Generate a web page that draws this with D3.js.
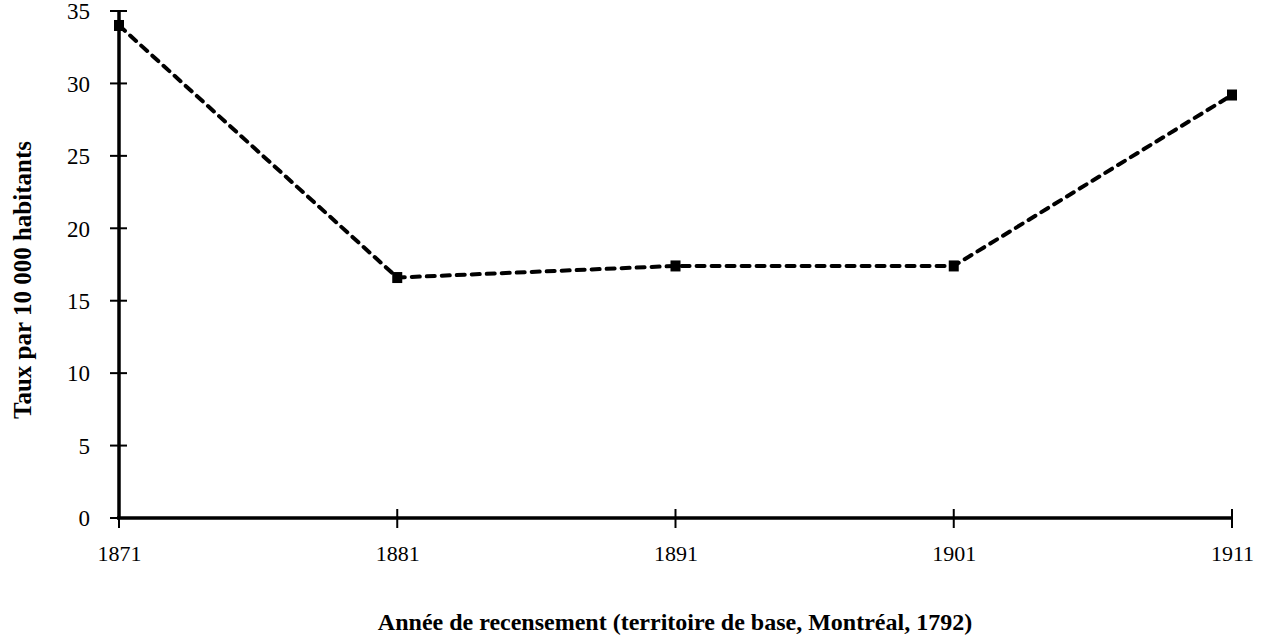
<!DOCTYPE html>
<html><head><meta charset="utf-8">
<script src="https://cdn.jsdelivr.net/npm/d3@7"></script>
<style>body{margin:0;background:#fff;} text{font-family:"Liberation Serif","Times New Roman",serif;}</style>
</head><body>
<svg id="c" width="1262" height="639"></svg>
<script>
const years = ["1871","1881","1891","1901","1911"];
const rates = [34.0, 16.6, 17.4, 17.4, 29.2];
const yTicks = [0,5,10,15,20,25,30,35];
const xTitle = "Année de recensement (territoire de base, Montréal, 1792)";
const yTitle = "Taux par 10 000 habitants";

const svg = d3.select("#c");
const x = d3.scalePoint().domain(years).range([119, 1232]);
const y = d3.scaleLinear().domain([0,35]).range([518, 11]);

// y axis
const ya = svg.append("g").attr("transform","translate(119,0)")
  .call(d3.axisLeft(y).tickValues(yTicks).tickSize(0).tickPadding(29));
ya.select(".domain").remove();
ya.selectAll("text").attr("font-size",23).attr("fill","#000").attr("dy","0.34em");
svg.append("line").attr("x1",119).attr("x2",119).attr("y1",y(35)).attr("y2",y(0)+1)
  .attr("stroke","#000").attr("stroke-width",3.5);
svg.selectAll(".yt").data(yTicks).join("line").attr("class","yt")
  .attr("x1",110).attr("x2",127).attr("y1",d=>y(d)).attr("y2",d=>y(d))
  .attr("stroke","#000").attr("stroke-width",2);

// x axis
const xa = svg.append("g").attr("transform","translate(0,518)")
  .call(d3.axisBottom(x).tickSize(0).tickPadding(0));
xa.select(".domain").remove();
xa.selectAll("text").attr("font-size",22).attr("fill","#000").attr("dy",0).attr("y",43);
svg.append("line").attr("x1",117).attr("x2",x("1911")).attr("y1",518).attr("y2",518)
  .attr("stroke","#000").attr("stroke-width",3.5);
svg.selectAll(".xt").data(years).join("line").attr("class","xt")
  .attr("x1",d=>x(d)).attr("x2",d=>x(d)).attr("y1",509).attr("y2",528)
  .attr("stroke","#000").attr("stroke-width",2);

// line
const data = years.map((d,i)=>({year:d,v:rates[i]}));
svg.append("path").datum(data)
  .attr("d", d3.line().x(d=>x(d.year)).y(d=>y(d.v)))
  .attr("fill","none").attr("stroke","#000").attr("stroke-width",4)
  .attr("stroke-dasharray","8,7").attr("stroke-linecap","round");
svg.selectAll(".m").data(data).join("rect").attr("class","m")
  .attr("x",d=>x(d.year)-5).attr("y",d=>y(d.v)-5.5).attr("width",10).attr("height",11)
  .attr("fill","#000");

// titles
svg.append("text").attr("x",675).attr("y",630).attr("text-anchor","middle")
  .attr("font-size",24).attr("font-weight","bold").text(xTitle);
svg.append("text").attr("transform","translate(31,280) rotate(-90)").attr("text-anchor","middle")
  .attr("font-size",25).attr("font-weight","bold").text(yTitle);
</script>
</body></html>
